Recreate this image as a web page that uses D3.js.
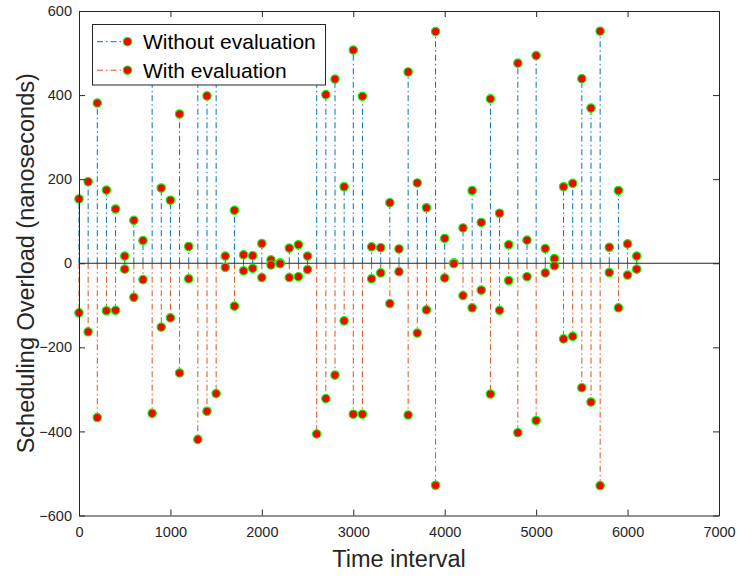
<!DOCTYPE html>
<html>
<head>
<meta charset="utf-8">
<script src="https://cdn.jsdelivr.net/npm/d3@7"></script>
<style>
  html, body { margin: 0; padding: 0; background: #fff; }
  svg { display: block; font-family: "Liberation Sans", Arial, Helvetica, sans-serif; }
</style>
</head>
<body>
<svg id="chart" width="737" height="577"></svg>
<script>
const timeIntervals = [0, 100, 200, 300, 400, 500, 600, 700, 800, 900, 1000, 1100, 1200, 1300, 1400, 1500,
  1600, 1700, 1800, 1900, 2000, 2100, 2200, 2300, 2400, 2500, 2600, 2700, 2800, 2900, 3000, 3100,
  3200, 3300, 3400, 3500, 3600, 3700, 3800, 3900, 4000, 4100, 4200, 4300, 4400, 4500, 4600, 4700,
  4800, 4900, 5000, 5100, 5200, 5300, 5400, 5500, 5600, 5700, 5800, 5900, 6000, 6100];
const withoutEvaluation = [153, 194, 381, 174, 129, 17, 102, 54, 470, 179, 150, 355, 40, 500, 398, 440,
  17, 126, 20, 18, 47, 8, 1, 36, 44, 17, 460, 401, 438, 182, 507, 397,
  39, 37, 144, 34, 455, 191, 132, 551, 59, 1, 84, 173, 97, 391, 119, 44,
  476, 55, 494, 35, 11, 182, 190, 439, 369, 552, 38, 173, 46, 17];
const withEvaluation = [-118, -163, -367, -113, -112, -14, -81, -39, -357, -152, -130, -261, -37, -419, -352, -310,
  -10, -102, -18, -12, -34, -4, -1, -34, -32, -15, -406, -322, -266, -137, -359, -359,
  -37, -23, -96, -20, -361, -166, -111, -528, -35, -1, -77, -106, -64, -311, -112, -41,
  -403, -32, -374, -23, -6, -180, -174, -296, -330, -529, -22, -106, -28, -14];
const xTicks = [0, 1000, 2000, 3000, 4000, 5000, 6000, 7000];
const yTicks = [-600, -400, -200, 0, 200, 400, 600];
const seriesNames = ["Without evaluation", "With evaluation"];
const seriesColors = ["#0072BD", "#D95319"];

const svg = d3.select("#chart");
const L = 79, R = 719, T = 11, B = 515.5;
const x = d3.scaleLinear().domain([0, 7000]).range([L, R]);
const y = d3.scaleLinear().domain([-600, 600]).range([B, T]);
const axisColor = "#262626";

const series = [
  { name: seriesNames[0], color: seriesColors[0], values: withoutEvaluation },
  { name: seriesNames[1], color: seriesColors[1], values: withEvaluation }
];

// Stems
series.forEach(s => {
  svg.append("g").selectAll("line")
    .data(timeIntervals.map((t, i) => ({ t, v: s.values[i] })))
    .join("line")
    .attr("x1", d => x(d.t)).attr("x2", d => x(d.t))
    .attr("y1", y(0)).attr("y2", d => y(d.v))
    .attr("stroke", s.color)
    .attr("stroke-width", 1)
    .attr("stroke-dasharray", "6,3,1.5,3");
});

// Baseline
svg.append("line")
  .attr("x1", x(0)).attr("x2", x(7000))
  .attr("y1", y(0)).attr("y2", y(0))
  .attr("stroke", axisColor).attr("stroke-width", 1);

// Markers
series.forEach(s => {
  svg.append("g").selectAll("circle")
    .data(timeIntervals.map((t, i) => ({ t, v: s.values[i] })))
    .join("circle")
    .attr("cx", d => x(d.t)).attr("cy", d => y(d.v))
    .attr("r", 4.2)
    .attr("fill", "#FF0000")
    .attr("stroke", "#00FF00")
    .attr("stroke-width", 1.2);
});

// Axes
const fmt = d3.format("d");
const gx = svg.append("g").attr("transform", `translate(0,${B})`)
  .call(d3.axisBottom(x).tickValues(xTicks).tickFormat(fmt).tickSizeInner(-6).tickSizeOuter(0).tickPadding(11));
const gy = svg.append("g").attr("transform", `translate(${L},0)`)
  .call(d3.axisLeft(y).tickValues(yTicks).tickFormat(fmt).tickSizeInner(-6).tickSizeOuter(0).tickPadding(7));
const gt = svg.append("g").attr("transform", `translate(0,${T})`)
  .call(d3.axisTop(x).tickValues(xTicks).tickFormat("").tickSizeInner(-6).tickSizeOuter(0));
const gr = svg.append("g").attr("transform", `translate(${R},0)`)
  .call(d3.axisRight(y).tickValues(yTicks).tickFormat("").tickSizeInner(-6).tickSizeOuter(0));
[gx, gy, gt, gr].forEach(g => {
  g.select(".domain").attr("stroke", axisColor).attr("stroke-width", 1);
  g.selectAll(".tick line").attr("stroke", axisColor).attr("stroke-width", 1);
  g.selectAll(".tick text").attr("fill", axisColor).style("font-size", "14.5px")
    .style("font-family", '"Liberation Sans", Arial, sans-serif');
});

// Axis labels
svg.append("text")
  .attr("x", (L + R) / 2).attr("y", 566.5)
  .attr("text-anchor", "middle")
  .attr("fill", axisColor)
  .style("font-size", "23.5px")
  .text("Time interval");
svg.append("text")
  .attr("transform", `translate(33.5,${(T + B) / 2}) rotate(-90)`)
  .attr("text-anchor", "middle")
  .attr("fill", axisColor)
  .style("font-size", "23.5px")
  .text("Scheduling Overload (nanoseconds)");

// Legend
const lg = svg.append("g");
lg.append("rect")
  .attr("x", 92.5).attr("y", 24.5).attr("width", 233).attr("height", 60.5)
  .attr("fill", "#fff").attr("stroke", axisColor).attr("stroke-width", 1);
series.forEach((s, i) => {
  const ly = 41.7 + i * 28.5;
  lg.append("line")
    .attr("x1", 97).attr("x2", 127.5).attr("y1", ly).attr("y2", ly)
    .attr("stroke", s.color).attr("stroke-width", 1).attr("stroke-dasharray", "6,3,1.5,3");
  lg.append("circle")
    .attr("cx", 127.5).attr("cy", ly).attr("r", 4.2)
    .attr("fill", "#FF0000").attr("stroke", "#00FF00").attr("stroke-width", 1.2);
  lg.append("text")
    .attr("x", 143).attr("y", ly).attr("dy", "0.35em")
    .attr("fill", "#000")
    .style("font-size", "21px")
    .text(s.name);
});
</script>
</body>
</html>
